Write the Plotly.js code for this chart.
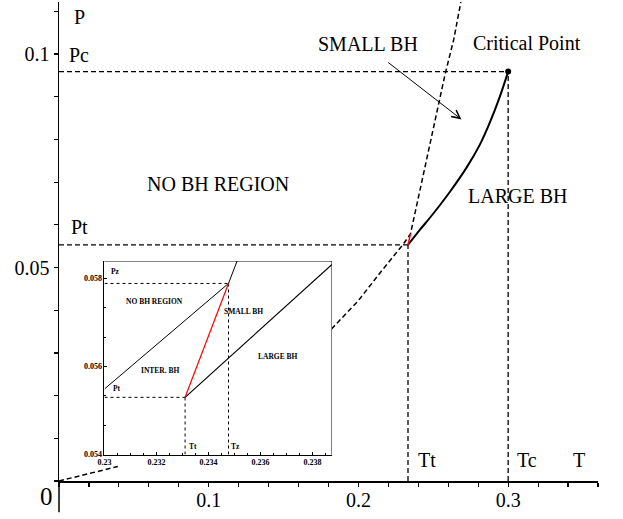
<!DOCTYPE html>
<html>
<head>
<meta charset="utf-8">
<script src="https://cdn.plot.ly/plotly-3.0.1.min.js"></script>
<style>html,body{margin:0;padding:0;background:#fff;}#chart{width:623px;height:519px;}</style>
</head>
<body>
<div id="chart"></div>
<script>
// ---- key values ----
const Tt = 0.2331, Pt = 0.0553;     // triple point
const Tz = 0.23477, Pz = 0.05789;   // zeroth-order point
const Tc = 0.3, Pc = 0.0959;        // critical point

// large/small BH coexistence line (solid)
const coexT = [0.2331, 0.2410, 0.2499, 0.2610, 0.2722, 0.2811, 0.2878, 0.2945, 0.3000];
const coexP = [0.0553, 0.0588, 0.0626, 0.0677, 0.0734, 0.0788, 0.0840, 0.0901, 0.0959];

// no-BH boundary (dashed), visible pieces only
const noBHT = [0, 0.0393, null, 0.1820, 0.1887, 0.1998, 0.2150, 0.2300, 0.23477, 0.2377, 0.2432, 0.2488, 0.2544, 0.2577, 0.2637, 0.2684];
const noBHP = [0, 0.0034, null, 0.0356, 0.0381, 0.0422, 0.0490, 0.0555, 0.05789, 0.0627, 0.0713, 0.0807, 0.0893, 0.0950, 0.1035, 0.1122];

// inset lines
const inNoBHT = [0.2300, 0.23477, 0.2351];
const inNoBHP = [0.05549, 0.05789, 0.0584];
const inLargeT = [0.2331, 0.23875];
const inLargeP = [0.0553, 0.05832];

// tick labels
const mainXTicks = [0.1, 0.2, 0.3];
const mainYTicks = [0.05, 0.1];

const FONT = 'Liberation Serif, Times New Roman, serif';
const dash = '5px,3px';

const traces = [
  // main guide lines
  {x:[0, Tc], y:[Pc, Pc], mode:'lines', line:{color:'#000', width:1.3, dash:dash}},
  {x:[Tc, Tc], y:[0, Pc], mode:'lines', line:{color:'#000', width:1.3, dash:dash}},
  {x:[0, Tt], y:[Pt, Pt], mode:'lines', line:{color:'#000', width:1.3, dash:dash}},
  {x:[Tt, Tt], y:[0, Pt], mode:'lines', line:{color:'#000', width:1.3, dash:dash}},
  // no BH boundary
  {x:noBHT, y:noBHP, mode:'lines', connectgaps:false, line:{color:'#000', width:1.5, dash:dash}},
  // coexistence
  {x:coexT, y:coexP, mode:'lines', line:{color:'#000', width:2, shape:'spline', smoothing:0.8}},
  // red segment
  {x:[Tt, Tz], y:[Pt, Pz], mode:'lines', line:{color:'#ff0000', width:1.5}},
  // critical point
  {x:[Tc], y:[Pc], mode:'markers', marker:{color:'#000', size:6}},

  // ---- inset ----
  {x:[0.23, Tt], y:[Pt, Pt], xaxis:'x2', yaxis:'y2', mode:'lines', line:{color:'#000', width:1, dash:'dot'}},
  {x:[Tt, Tt], y:[0.054, Pt], xaxis:'x2', yaxis:'y2', mode:'lines', line:{color:'#000', width:1, dash:'dot'}},
  {x:[0.23, Tz], y:[Pz, Pz], xaxis:'x2', yaxis:'y2', mode:'lines', line:{color:'#000', width:1, dash:'dot'}},
  {x:[Tz, Tz], y:[0.054, Pz], xaxis:'x2', yaxis:'y2', mode:'lines', line:{color:'#000', width:1, dash:'dot'}},
  {x:inNoBHT, y:inNoBHP, xaxis:'x2', yaxis:'y2', mode:'lines', line:{color:'#000', width:1}},
  {x:inLargeT, y:inLargeP, xaxis:'x2', yaxis:'y2', mode:'lines', line:{color:'#000', width:1.2}},
  {x:[Tt, Tz], y:[Pt, Pz], xaxis:'x2', yaxis:'y2', mode:'lines', line:{color:'#ff0000', width:1.2}}
];

const mainLbl = (t, x, y) => ({text:t, x:x, y:y, xref:'x', yref:'y', showarrow:false, font:{family:FONT, size:20, color:'#000'}});
const insLbl = (t, x, y) => ({text:'<b>' + t + '</b>', x:x, y:y, xref:'x2', yref:'y2', showarrow:false, font:{family:FONT, size:7.5, color:'#000'}});

const annotations = [
  mainLbl('P', 0.0139, 0.1087),
  mainLbl('Pc', 0.0132, 0.0998),
  mainLbl('Pt', 0.0139, 0.0595),
  mainLbl('Tt', 0.2458, 0.0049),
  mainLbl('Tc', 0.3125, 0.0049),
  mainLbl('T', 0.3472, 0.0049),
  mainLbl('SMALL BH', 0.2065, 0.1024),
  mainLbl('Critical Point', 0.3129, 0.1026),
  mainLbl('NO BH REGION', 0.1061, 0.0696),
  mainLbl('LARGE BH', 0.3059, 0.0668),
  {text:'0', x:-0.0228, y:-0.033, xref:'paper', yref:'paper', xanchor:'center', yanchor:'middle', showarrow:false, font:{family:FONT, size:25, color:'#000'}},
  {text:'', x:0.2688, y:0.0847, ax:0.2189, ay:0.0983, xref:'x', yref:'y', axref:'x', ayref:'y',
   showarrow:true, arrowhead:5, arrowsize:1.6, arrowwidth:1, arrowcolor:'#000', standoff:0},
  insLbl('Pz', 0.23044, 0.05815),
  insLbl('Pt', 0.23047, 0.0555),
  insLbl('NO BH REGION', 0.23193, 0.05748),
  insLbl('INTER. BH', 0.23215, 0.0559),
  insLbl('Tt', 0.23342, 0.05419),
  insLbl('Tz', 0.23504, 0.05418),
  insLbl('SMALL BH', 0.23535, 0.05725),
  insLbl('LARGE BH', 0.23669, 0.05623)
];

const shapes = [
  // inset white box (drawn in inset subplot layer, above main traces)
  {type:'rect', xref:'x2', yref:'y2', x0:0.229115, x1:0.23875, y0:0.05378, y1:0.0584,
   fillcolor:'#fff', line:{color:'#000', width:1}, layer:'below'},
  // axis extensions past the origin
  {type:'line', xref:'paper', yref:'paper', x0:0, x1:0, y0:-0.065, y1:0, line:{color:'#000', width:1.5}},
  {type:'line', xref:'paper', yref:'paper', x0:-0.009, x1:0, y0:0, y1:0, line:{color:'#000', width:1.5}}
];

const layout = {
  width:623, height:519,
  margin:{l:59, r:25, t:2, b:38},
  paper_bgcolor:'#fff', plot_bgcolor:'rgba(0,0,0,0)',
  showlegend:false,
  font:{family:FONT, color:'#000'},
  xaxis:{range:[0, 0.36], showline:true, linecolor:'#000', linewidth:1.5, showgrid:false, zeroline:false,
         ticks:'outside', ticklen:4, tickwidth:1.2, tickcolor:'#000', tickvals:mainXTicks, ticktext:mainXTicks.map(String),
         ticklabelstandoff:-4,
         tickfont:{family:FONT, size:20, color:'#000'}, minor:{dtick:0.02, tick0:0, ticks:'outside', ticklen:4, tickcolor:'#000', tickwidth:1.2, showgrid:false}},
  yaxis:{range:[0, 0.1122], showline:true, linecolor:'#000', linewidth:1.5, showgrid:false, zeroline:false,
         ticks:'outside', ticklen:4, tickwidth:1.2, tickcolor:'#000', tickvals:mainYTicks, ticktext:mainYTicks.map(String),
         tickfont:{family:FONT, size:20, color:'#000'}, minor:{dtick:0.01, tick0:0, ticks:'outside', ticklen:4, tickcolor:'#000', tickwidth:1.2, showgrid:false}},
  xaxis2:{domain:[0.0844, 0.5065], range:[0.23, 0.23875], anchor:'y2', showline:true, linecolor:'#000', linewidth:1,
          showgrid:false, zeroline:false, ticks:'inside', ticklen:3, tickcolor:'#000', dtick:0.002, tick0:0.23,
          tickfont:{family:FONT, size:8, color:'#000', weight:'bold'}, minor:{dtick:0.0005, ticks:'inside', ticklen:2, tickcolor:'#000', showgrid:false}},
  yaxis2:{domain:[0.0553, 0.4593], range:[0.054, 0.0584], anchor:'x2', showline:true, linecolor:'#000', linewidth:1,
          showgrid:false, zeroline:false, ticks:'inside', ticklen:3, tickcolor:'#000', dtick:0.002, tick0:0.054,
          tickfont:{family:FONT, size:8, color:'#000', weight:'bold'}, minor:{dtick:0.002/3, ticks:'inside', ticklen:2, tickcolor:'#000', showgrid:false}},
  annotations:annotations,
  shapes:shapes
};

Plotly.newPlot('chart', traces, layout, {displayModeBar:false, staticPlot:true});
</script>
</body>
</html>
